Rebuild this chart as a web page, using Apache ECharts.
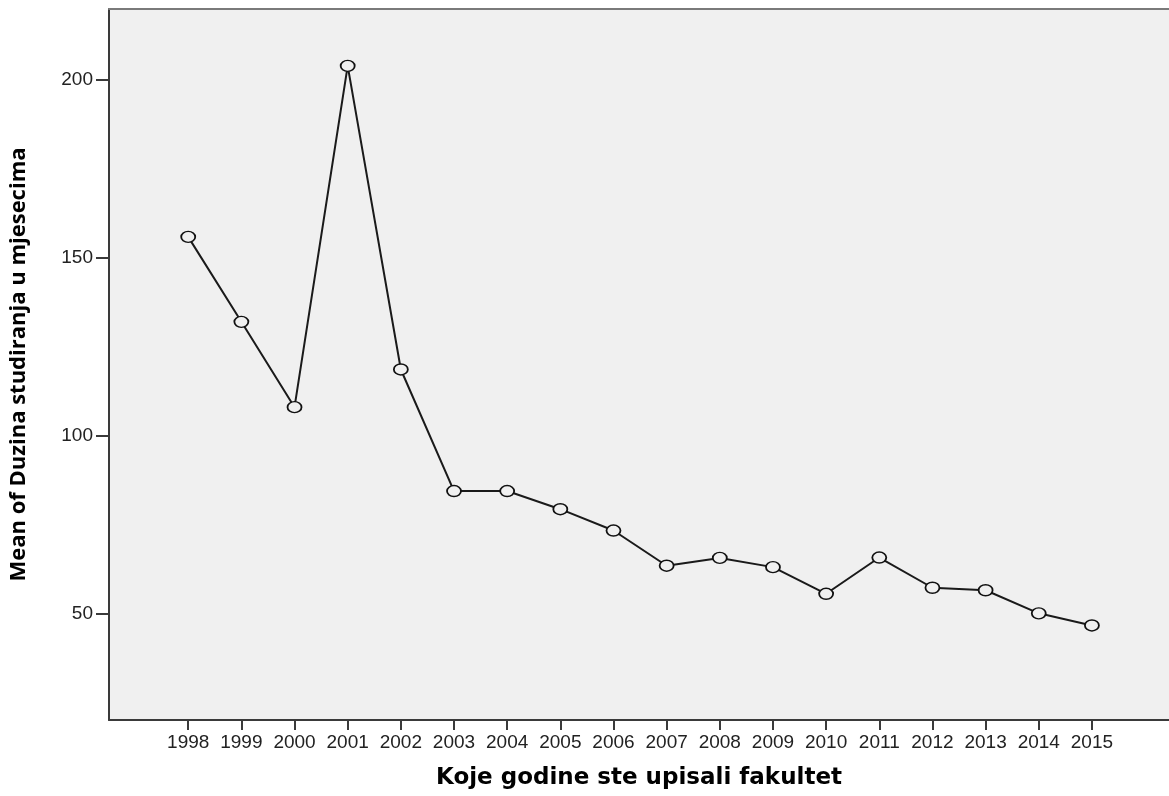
<!DOCTYPE html>
<html>
<head>
<meta charset="utf-8">
<script src="https://cdn.jsdelivr.net/npm/echarts@6/dist/echarts.min.js"></script>
<style>
html,body{margin:0;padding:0;background:#fff;}
#chart{width:1169px;height:796px;}
</style>
</head>
<body>
<div id="chart"></div>
<script>
const years = [1998,1999,2000,2001,2002,2003,2004,2005,2006,2007,2008,2009,2010,2011,2012,2013,2014,2015];
const meanMonths = [155.9,132.0,108.0,204.0,118.6,84.4,84.4,79.3,73.3,63.4,65.6,63.0,55.5,65.7,57.2,56.5,50.0,46.6];
const yTicks = [50,100,150,200];
const xTitle = 'Koje godine ste upisali fakultet';
const yTitle = 'Mean of Duzina studiranja u mjesecima';

const chart = echarts.init(document.getElementById('chart'), null, {renderer:'canvas'});
const points = years.map((y,i)=>[y, meanMonths[i]]);
chart.setOption({
  animation:false,
  backgroundColor:'#ffffff',
  grid:{left:106, top:9, right:0, bottom:76, show:true, backgroundColor:'#f0f0f0', borderWidth:0},
  xAxis:[{
    type:'value', min:1996.51, max:2016.45,
    name:xTitle, nameLocation:'middle', nameGap:47,
    nameTextStyle:{fontFamily:'DejaVu Sans', fontWeight:'bold', fontSize:23, color:'#000'},
    axisLine:{onZero:false, lineStyle:{color:'#3a3a3a', width:2}},
    axisTick:{show:true, length:10, lineStyle:{color:'#3a3a3a', width:2}, customValues:years},
    axisLabel:{customValues:years, margin:13, fontFamily:'Liberation Sans', fontSize:19, color:'#222', formatter:v=>String(v)},
    splitLine:{show:false}
  },{
    type:'value', position:'top', min:1996.51, max:2016.45,
    axisLine:{onZero:false, lineStyle:{color:'#7a7a7a', width:2}},
    axisTick:{show:false}, axisLabel:{show:false}, splitLine:{show:false}
  }],
  yAxis:{
    type:'value', min:20, max:220,
    name:yTitle, nameLocation:'middle', nameGap:79, nameRotate:90,
    nameTextStyle:{fontFamily:'Open Sans', fontWeight:'bold', fontSize:22, color:'#000'},
    axisLine:{show:true, onZero:false, lineStyle:{color:'#3a3a3a', width:2}},
    axisTick:{show:true, length:13, lineStyle:{color:'#3a3a3a', width:2}, customValues:yTicks},
    axisLabel:{customValues:yTicks, margin:16, fontFamily:'Liberation Sans', fontSize:19, color:'#222'},
    splitLine:{show:false}
  },
  series:[{
    type:'line',
    xAxisIndex:0,
    data:points,
    symbol:'circle',
    symbolSize:[14,11],
    showSymbol:true,
    lineStyle:{color:'#1a1a1a', width:2},
    itemStyle:{color:'#f0f0f0', borderColor:'#111', borderWidth:1.6},
    z:3
  }]
});
</script>
</body>
</html>
